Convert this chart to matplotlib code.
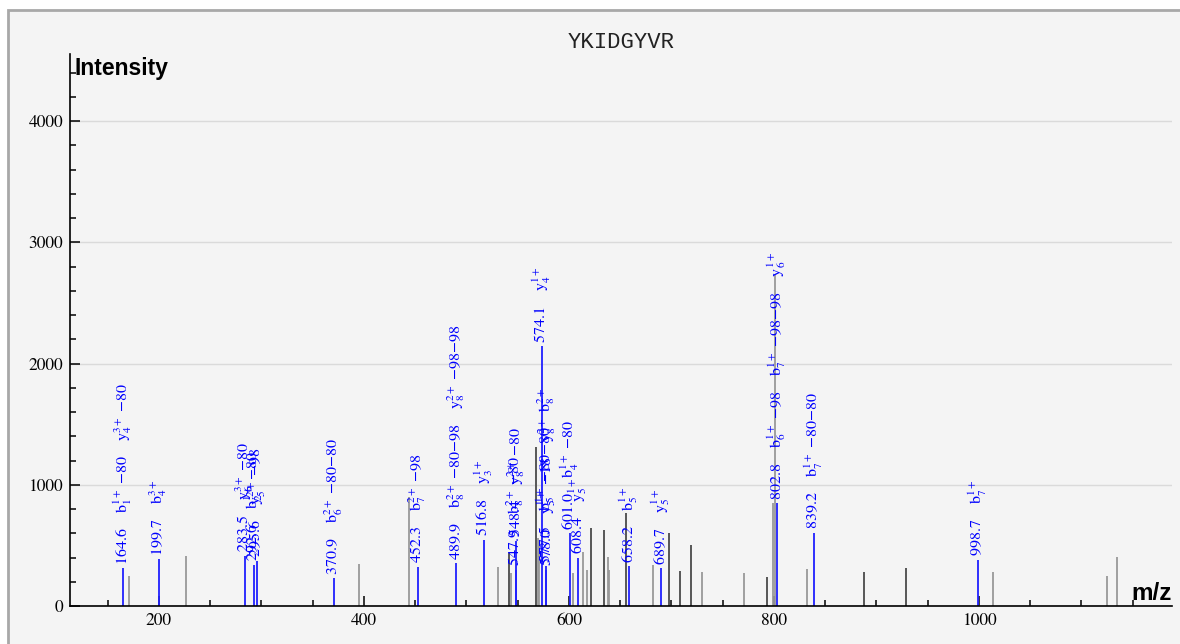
import matplotlib
matplotlib.use("Agg")
import matplotlib.pyplot as plt
from matplotlib.patches import Rectangle
from matplotlib.ticker import MultipleLocator

plt.rcParams['font.family'] = ['STIXGeneral', 'DejaVu Sans']
plt.rcParams['mathtext.fontset'] = 'stix'

title = "YKIDGYVR"

# annotated (matched) peaks
ann_mz = [164.6, 199.7, 283.5, 292.6, 295.6, 370.9, 452.3, 489.9, 516.8,
          547.9, 548.4, 574.1, 577.5, 578.0, 601.0, 608.4, 658.2, 689.7,
          802.8, 839.2, 998.7]
ann_int = [312, 386, 413, 339, 375, 230, 325, 355, 545,
           300, 540, 2143, 330, 300, 600, 400, 330, 311,
           850, 603, 380]
ann_ions = [
    ["b$_1^{1+}$ −80", "y$_4^{3+}$ −80"],
    ["b$_4^{3+}$"],
    ["y$_6^{3+}$ −80"],
    ["b$_2^{1+}$ −80"],
    ["y$_5^{2+}$ −98"],
    ["b$_6^{2+}$ −80−80"],
    ["b$_7^{2+}$ −98"],
    ["b$_8^{2+}$ −80−98", "y$_8^{2+}$ −98−98"],
    ["y$_3^{1+}$"],
    ["b$_8^{2+}$ −80"],
    ["y$_8^{2+}$ −80"],
    ["y$_4^{1+}$"],
    ["b$_5^{1+}$ −80−80", "b$_8^{2+}$"],
    ["y$_5^{1+}$ −18", "y$_8^{2+}$"],
    ["b$_4^{1+}$ −80"],
    ["y$_5^{1+}$"],
    ["b$_5^{1+}$"],
    ["y$_5^{1+}$"],
    ["b$_6^{1+}$ −98", "b$_7^{1+}$ −98−98", "y$_6^{1+}$"],
    ["b$_7^{1+}$ −80−80"],
    ["b$_7^{1+}$"],
]

# unmatched peaks (dark grey)
dark_mz = [541.8, 568.3, 621.5, 634.1, 655.3, 697.9, 708.6, 719.0, 792.7,
           887.8, 928.8]
dark_int = [437, 1310, 644, 628, 770, 606, 292, 504, 243, 280, 314]

# unmatched peaks (light grey)
light_mz = [171.0, 226.3, 394.8, 443.9, 531.0, 543.4, 569.8, 571.2, 604.2,
            613.4, 617.3, 637.8, 639.3, 681.7, 729.5, 771.2, 799.3, 801.0,
            831.9, 1013.4, 1124.6, 1134.3]
light_int = [250, 410, 347, 903, 325, 270, 560, 545, 270,
             449, 297, 408, 297, 339, 281, 270, 850, 2735,
             306, 284, 248, 408]

W, H = 1180, 644
fig = plt.figure(figsize=(W / 100, H / 100), dpi=100)
fig.patch.set_facecolor('white')
fig.patches.append(Rectangle((8 / W, -0.05), 1.2, (H - 10) / H + 0.05,
                             transform=fig.transFigure, facecolor='#f4f4f4',
                             edgecolor='#a8a8a8', linewidth=2, zorder=-10))

ax = fig.add_axes([70 / W, (H - 606) / H, (1172 - 70) / W, (606 - 54) / H])
ax.set_facecolor('none')
ax.set_xlim(113.2, 1188.3)
ax.set_ylim(0, 4555)

for s in ['top', 'right']:
    ax.spines[s].set_visible(False)
for s in ['left', 'bottom']:
    ax.spines[s].set_linewidth(1.2)
    ax.spines[s].set_color('black')

ax.xaxis.set_major_locator(MultipleLocator(200))
ax.xaxis.set_minor_locator(MultipleLocator(50))
ax.yaxis.set_major_locator(MultipleLocator(1000))
ax.yaxis.set_minor_locator(MultipleLocator(200))
ax.tick_params(which='major', direction='in', length=7, width=1.1, labelsize=12.5,
               color='black')
ax.tick_params(which='minor', direction='in', length=4.3, width=1.1, color='black')
ax.tick_params(axis='y', which='major', pad=5)
ax.tick_params(axis='x', which='major', pad=5)
ax.grid(axis='y', which='major', color='#dadada', linewidth=1)
ax.set_axisbelow(True)

ax.vlines(light_mz, 0, light_int, colors='#999999', linewidth=1.3)
ax.vlines(dark_mz, 0, dark_int, colors='#4a4a4a', linewidth=1.3)
ax.vlines(ann_mz, 0, ann_int, colors='#2020ff', linewidth=1.3)

gap = "    "
for mz, it, ions in zip(ann_mz, ann_int, ann_ions):
    label = f"{mz:.1f}" + gap + gap.join(ions)
    ax.annotate(label, xy=(mz, it), xytext=(0, 2.5), textcoords='offset points',
                rotation=90, ha='center', va='bottom', color='#0000ff',
                fontsize=11.5)

fig.text(621 / W, 1 - 43 / H, title, family='Liberation Mono', fontsize=16,
         color='#222222', ha='center', va='center')
fig.text(74 / W, 1 - 68 / H, "Intensity", family='Liberation Sans',
         fontweight='bold', fontsize=16.5, ha='left', va='center')
fig.text(1172 / W, 1 - 594 / H, "m/z", family='Liberation Sans',
         fontweight='bold', fontsize=17.5, ha='right', va='center')

fig.savefig("out.png", dpi=100)
